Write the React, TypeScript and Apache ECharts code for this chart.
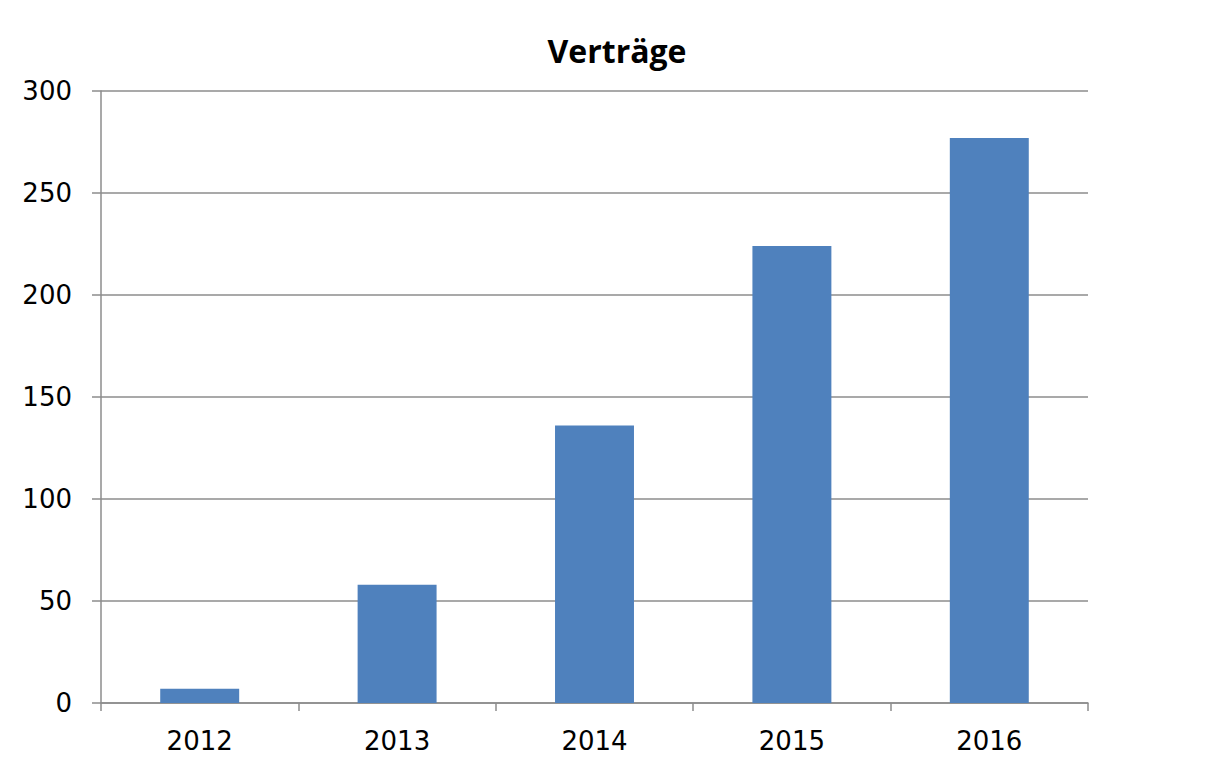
import React, { useEffect, useRef } from "react";
import * as echarts from "echarts";

const categories = ["2012", "2013", "2014", "2015", "2016"];
const vertraege = [7, 58, 136, 224, 277];
const yTicks = { min: 0, max: 300, interval: 50 };

export default function App() {
  const ref = useRef<HTMLDivElement>(null);
  useEffect(() => {
    document.body.style.margin = "0";
    const chart = echarts.init(ref.current!, null, { renderer: "svg" });
    chart.setOption({
      animation: false,
      backgroundColor: "#ffffff",
      title: {
        text: "Verträge",
        left: 612,
        top: 29,
        textAlign: "center",
        textStyle: { fontFamily: "Open Sans", fontWeight: "bold", fontSize: 32, color: "#000" },
      },
      grid: { left: 101, right: 124, top: 91, bottom: 55 },
      xAxis: {
        type: "category",
        data: categories,
        axisLine: { lineStyle: { color: "#8c8c8c", width: 1.5 } },
        axisTick: { show: true, alignWithLabel: false, length: 8, lineStyle: { color: "#8c8c8c", width: 1.5 } },
        axisLabel: { margin: 25, fontFamily: "DejaVu Sans", fontSize: 26, color: "#000" },
      },
      yAxis: {
        type: "value",
        min: yTicks.min,
        max: yTicks.max,
        interval: yTicks.interval,
        axisLine: { show: true, lineStyle: { color: "#8c8c8c", width: 1.5 } },
        axisTick: { show: true, length: 9, lineStyle: { color: "#8c8c8c", width: 1.5 } },
        splitLine: { show: true, lineStyle: { color: "#8c8c8c", width: 1.5 } },
        axisLabel: { margin: 29, fontFamily: "DejaVu Sans", fontSize: 26, color: "#000" },
      },
      series: [
        {
          type: "bar",
          data: vertraege,
          barWidth: "40%",
          itemStyle: { color: "#4F81BD" },
        },
      ],
    });
    return () => chart.dispose();
  }, []);
  return <div ref={ref} style={{ width: 1212, height: 758 }} />;
}
